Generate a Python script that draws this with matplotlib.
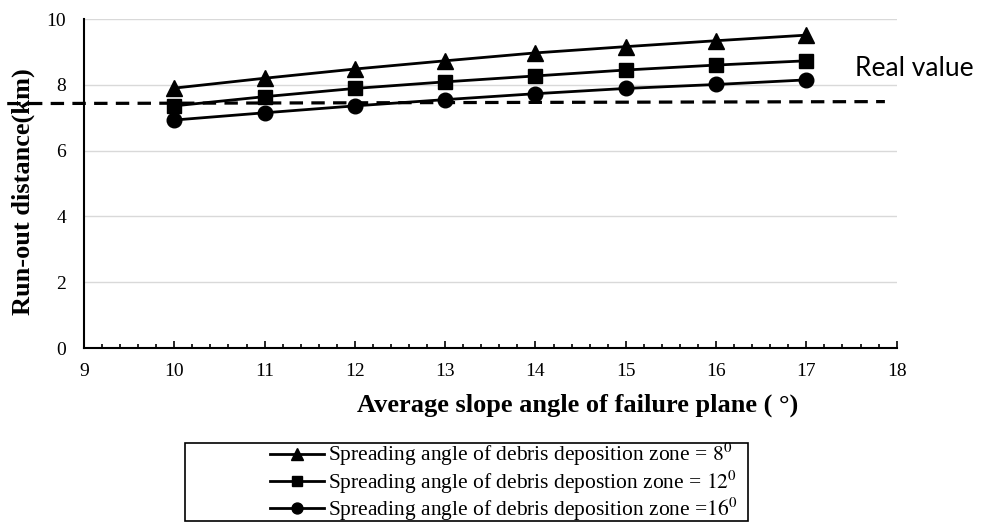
import matplotlib
matplotlib.use('Agg')
import matplotlib.pyplot as plt
from matplotlib.ticker import MultipleLocator
from matplotlib.patches import Rectangle

plt.rcParams['font.family'] = ['Liberation Serif', 'DejaVu Serif']
plt.rcParams['mathtext.fontset'] = 'stix'

# slope angle of failure plane (deg)
angles = [10, 11, 12, 13, 14, 15, 16, 17]
# run-out distance (km) for each spreading angle
runout_8 = [7.90, 8.20, 8.48, 8.73, 8.97, 9.16, 9.34, 9.51]
runout_12 = [7.36, 7.64, 7.89, 8.09, 8.27, 8.45, 8.60, 8.73]
runout_16 = [6.93, 7.15, 7.36, 7.55, 7.73, 7.89, 8.01, 8.15]
# real value line
real_x = [8.15, 17.87]
real_y = [7.43, 7.49]

labels = [
    r'Spreading angle of debris deposition zone = $8^0$',
    r'Spreading angle of debris depostion zone = $12^0$',
    r'Spreading angle of debris deposition zone =$16^0$',
]

fig = plt.figure(figsize=(9.81, 5.25), dpi=100)
ax = fig.add_axes([0.0856, 0.337, 0.8284, 0.6268])

ax.plot(angles, runout_8, color='black', lw=2, marker='^', ms=11, label=labels[0], zorder=3)
ax.plot(angles, runout_12, color='black', lw=2, marker='s', ms=9.5, label=labels[1], zorder=3)
ax.plot(angles, runout_16, color='black', lw=2, marker='o', ms=10.5, label=labels[2], zorder=3)
ax.plot(real_x, real_y, color='black', lw=2.3, dashes=(4.2, 2.6), clip_on=False, zorder=2)

ax.text(17.535, 8.27, 'Real value', fontsize=19, family=['Lato', 'DejaVu Sans'],
        va='baseline', ha='left')

ax.set_xlim(9, 18)
ax.set_ylim(0, 10)
ax.xaxis.set_major_locator(MultipleLocator(1))
ax.xaxis.set_minor_locator(MultipleLocator(0.2))
ax.yaxis.set_major_locator(MultipleLocator(2))
ax.tick_params(axis='x', which='major', direction='in', length=5, width=1.2, labelsize=14, pad=11)
ax.tick_params(axis='x', which='minor', direction='in', length=3, width=1.2)
ax.tick_params(axis='y', which='major', length=0, labelsize=14, pad=13)

ax.grid(axis='y', color='#d9d9d9', lw=1)
ax.set_axisbelow(True)
for s in ['top', 'right']:
    ax.spines[s].set_visible(False)
for s in ['left', 'bottom']:
    ax.spines[s].set_linewidth(1.5)

ax.set_xlabel('Average slope angle of failure plane ( °)', fontsize=19, fontweight='bold')
ax.xaxis.set_label_coords(0.607, -0.137)
ax.set_ylabel('Run-out distance(km)', fontsize=19, fontweight='bold')
ax.yaxis.set_label_coords(-0.060, 0.474)

leg = fig.legend(loc='center left', bbox_to_anchor=(0.2752, 0.0819), fontsize=15.5, frameon=False,
                 handlelength=2.5, handletextpad=0.2, labelspacing=0.0, borderpad=0,
                 borderaxespad=0, markerscale=0.75)

# legend frame is wider than its contents in the original
fig.add_artist(Rectangle((185 / 981, 1 - 521 / 525), (748 - 185) / 981, (521 - 443) / 525,
                         transform=fig.transFigure, fill=False, edgecolor='black', lw=1.2))

fig.savefig('out.png', dpi=100)
